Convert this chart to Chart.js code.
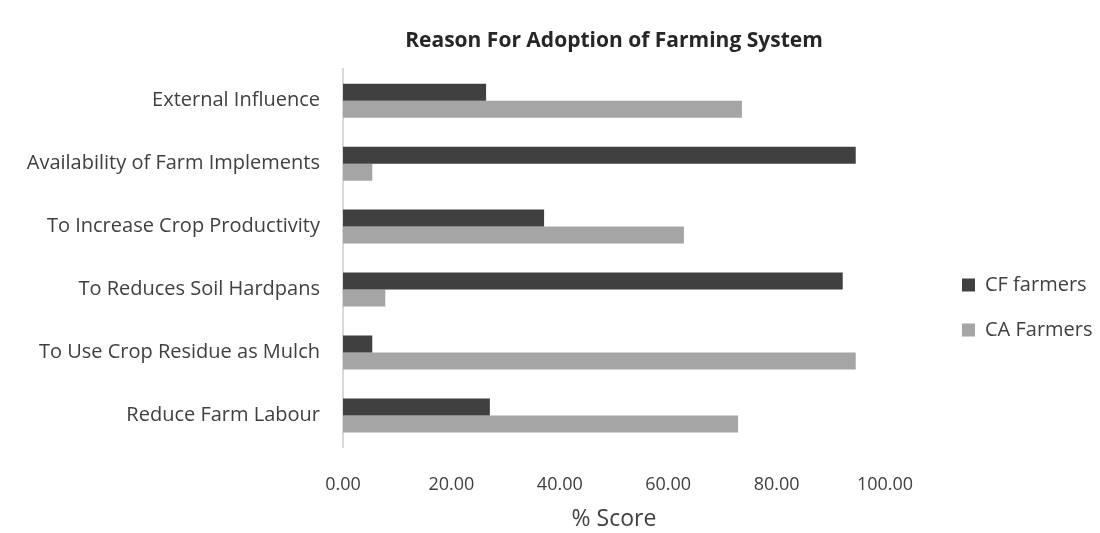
<!DOCTYPE html>
<html>
<head>
<meta charset="utf-8">
<script src="https://cdn.jsdelivr.net/npm/chart.js@4/dist/chart.umd.min.js"></script>
<style>
  body { margin: 0; background: #fff; }
  #wrap { width: 1100px; height: 533px; }
</style>
</head>
<body>
<div id="wrap"><canvas id="adoptionChart" width="1100" height="533"></canvas></div>
<script>
// Chart data
const categories = [
    'External Influence',
    'Availability of Farm Implements',
    'To Increase Crop Productivity',
    'To Reduces Soil Hardpans',
    'To Use Crop Residue as Mulch',
    'Reduce Farm Labour'
];
const cfFarmers = [26.4, 94.6, 37.1, 92.2, 5.4, 27.1];
const caFarmers = [73.6, 5.4, 62.9, 7.8, 94.6, 72.9];
const xTicks = [0, 20, 40, 60, 80, 100];

const baseFont = "'Open Sans', 'Liberation Sans', sans-serif";

// Legend sits apart from the plot on the right, like the Excel original
const LEGEND_SPACE = 215;   // room kept right of the plot
const LEGEND_LEFT = 937;    // legend box left edge
const LEGEND_FIRST_Y = 275; // top of first legend row

const legendPlacer = {
    id: 'legendPlacer',
    beforeLayout(chart) {
        const lg = chart.legend;
        if (lg && !lg._wrappedFit) {
            const fit = lg.fit.bind(lg);
            lg.fit = function () {
                fit();
                this.width = LEGEND_SPACE;
            };
            lg._wrappedFit = true;
        }
    },
    afterLayout(chart) {
        const lg = chart.legend;
        if (!lg) return;
        const pad = lg.options.labels.padding;
        const colH = (lg.columnSizes && lg.columnSizes[0]) ? lg.columnSizes[0].height : 90;
        const h = lg.height;
        const top = (2 * LEGEND_FIRST_Y - pad - h + colH) / 2;
        lg.left = LEGEND_LEFT;
        lg.right = LEGEND_LEFT + lg.width;
        lg.top = top;
        lg.bottom = top + h;
    }
};

const ctx = document.getElementById('adoptionChart');

new Chart(ctx, {
    type: 'bar',
    data: {
        labels: categories,
        datasets: [
            {
                label: 'CF farmers',
                data: cfFarmers,
                backgroundColor: '#404040',
                barPercentage: 1.0,
                categoryPercentage: 0.54
            },
            {
                label: 'CA Farmers',
                data: caFarmers,
                backgroundColor: '#a5a5a5',
                barPercentage: 1.0,
                categoryPercentage: 0.54
            }
        ]
    },
    plugins: [legendPlacer],
    options: {
        indexAxis: 'y',
        responsive: false,
        animation: false,
        layout: {
            padding: { top: 0, right: 0, left: 0, bottom: 0 }
        },
        plugins: {
            title: {
                display: true,
                text: 'Reason For Adoption of Farming System',
                fullSize: false,
                color: '#262626',
                font: { family: baseFont, size: 21, weight: 'bold' },
                padding: { top: 28, bottom: 16 }
            },
            legend: {
                position: 'right',
                labels: {
                    color: '#404040',
                    font: { family: baseFont, size: 20 },
                    boxWidth: 13,
                    boxHeight: 13,
                    padding: 25
                }
            },
            tooltip: { enabled: false }
        },
        scales: {
            x: {
                min: 0,
                max: 100,
                afterBuildTicks: (scale) => {
                    scale.ticks = xTicks.map(v => ({ value: v }));
                },
                grid: { display: false },
                border: { display: false },
                ticks: {
                    color: '#404040',
                    font: { family: baseFont, size: 18, lineHeight: 1 },
                    padding: 21,
                    callback: (value) => Number(value).toFixed(2)
                },
                title: {
                    display: true,
                    text: '% Score',
                    color: '#404040',
                    font: { family: baseFont, size: 23, lineHeight: 1 },
                    padding: { top: -7, bottom: 2 }
                }
            },
            y: {
                grid: { display: false },
                border: { display: true, color: '#d9d9d9', width: 2 },
                afterFit: (scale) => { scale.width = 343; },
                ticks: {
                    color: '#404040',
                    font: { family: baseFont, size: 20 },
                    padding: 15
                }
            }
        }
    }
});
</script>
</body>
</html>
